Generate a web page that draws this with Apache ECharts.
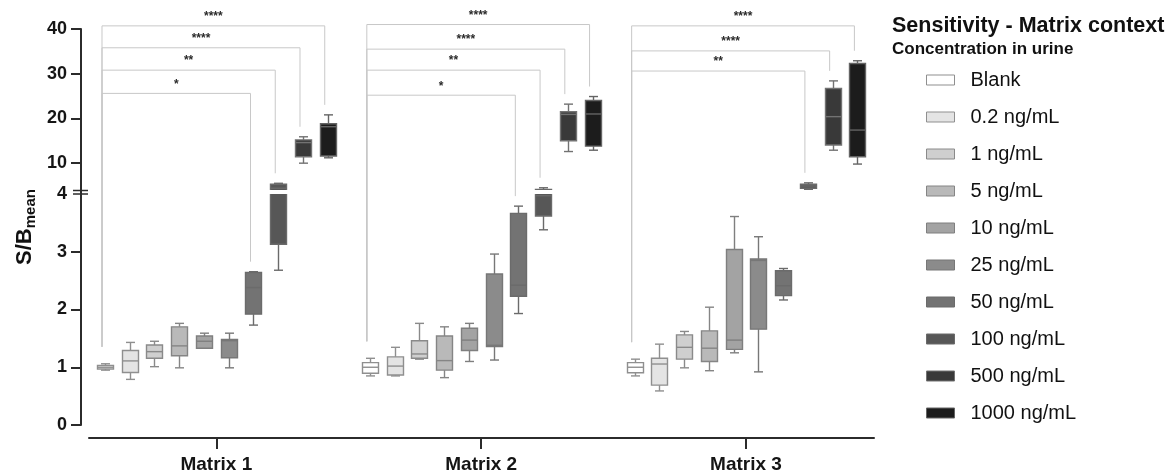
<!DOCTYPE html>
<html><head><meta charset="utf-8">
<script src="https://cdn.jsdelivr.net/npm/echarts@6/dist/echarts.min.js"></script>
<style>html,body{margin:0;padding:0;background:#fff}#c{width:1171px;height:472px}</style>
</head><body><div id="c"></div>
<script>
// ---------------- data ----------------
const matrices = ['Matrix 1', 'Matrix 2', 'Matrix 3'];
const concentrations = ['Blank', '0.2 ng/mL', '1 ng/mL', '5 ng/mL', '10 ng/mL', '25 ng/mL', '50 ng/mL', '100 ng/mL', '500 ng/mL', '1000 ng/mL'];
// each row: [min, Q1, median, Q3, max] of S/B_mean
const matrix1 = [
  [0.95, 0.97, 1.00, 1.03, 1.06],
  [0.79, 0.91, 1.11, 1.29, 1.43],
  [1.01, 1.155, 1.27, 1.385, 1.45],
  [0.99, 1.20, 1.37, 1.70, 1.76],
  [1.33, 1.33, 1.45, 1.54, 1.59],
  [0.99, 1.165, 1.46, 1.48, 1.59],
  [1.73, 1.92, 2.38, 2.64, 2.655],
  [2.68, 3.13, 4.40, 5.27, 5.50],
  [10.0, 11.45, 14.6, 15.2, 15.9],
  [11.2, 11.6, 18.15, 18.8, 20.8]
];
const matrix2 = [
  [0.85, 0.895, 1.00, 1.08, 1.155],
  [0.85, 0.865, 1.02, 1.18, 1.345],
  [1.14, 1.155, 1.23, 1.46, 1.76],
  [0.82, 0.95, 1.115, 1.54, 1.70],
  [1.10, 1.29, 1.47, 1.675, 1.76],
  [1.125, 1.36, 1.38, 2.615, 2.96],
  [1.93, 2.23, 2.42, 3.665, 3.79],
  [3.38, 3.62, 3.97, 4.10, 4.50],
  [12.6, 15.0, 20.9, 21.5, 23.2],
  [12.9, 13.8, 21.0, 24.0, 24.9]
];
const matrix3 = [
  [0.85, 0.905, 1.00, 1.08, 1.14],
  [0.59, 0.69, 1.056, 1.155, 1.40],
  [0.99, 1.14, 1.345, 1.56, 1.62],
  [0.94, 1.10, 1.33, 1.63, 2.04],
  [1.25, 1.31, 1.47, 3.04, 3.61],
  [0.92, 1.66, 2.85, 2.875, 3.26],
  [2.165, 2.24, 2.41, 2.67, 2.71],
  [4.15, 4.40, 4.90, 5.30, 5.60],
  [12.9, 14.06, 20.4, 26.7, 28.4],
  [9.8, 11.45, 17.4, 32.3, 32.9]
];
// y ticks (broken axis: lower 0-4, upper 4-40)
const lowerTicks = [0, 1, 2, 3, 4];
const upperTicks = [10, 20, 30, 40];
// significance vs Blank, per matrix: target concentration index, label, bracket level
const sigTargets = [[6, 7, 8, 9], [6, 7, 8, 9], [7, 8, 9]];
const sigLabels = [['*', '**', '****', '****'], ['*', '**', '****', '****'], ['**', '****', '****']];
const sigLevels = [[25.6, 30.8, 35.8, 40.7], [25.2, 30.8, 35.5, 41.0], [30.6, 35.1, 40.7]];

// ---------------- layout / style ----------------
const FONT = '"Liberation Sans", Arial, Helvetica, sans-serif';
const GROUP_SPAN = 10.7;          // x units between matrices (1 unit = one box slot)
const X_MIN = -0.646, X_MAX = 31.071;
const BOX_W = 16, CAP_W = 9;
const fills = ['#ffffff', '#e4e4e4', '#cfcfcf', '#b9b9b9', '#a3a3a3', '#8b8b8b', '#737373', '#575757', '#393939', '#1c1c1c'];
const strokes = ['#8f8f8f', '#8f8f8f', '#8a8a8a', '#858585', '#7f7f7f', '#777777', '#6b6b6b', '#6a6a6a', '#727272', '#646464'];
const AXIS_COLOR = '#2b2b2b';
const Y_OFFSET = 8;

const allData = [matrix1, matrix2, matrix3];
const nC = concentrations.length;
const groupCenters = matrices.map((m, g) => g * GROUP_SPAN + (nC - 1) / 2);
const boxX = (g, c) => g * GROUP_SPAN + c;

function makeRender(c) {
  return function (params, api) {
    const x = api.value(0);
    const pMin = api.coord([x, api.value(1)]);
    const pQ1 = api.coord([x, api.value(2)]);
    const pMed = api.coord([x, api.value(3)]);
    const pQ3 = api.coord([x, api.value(4)]);
    const pMax = api.coord([x, api.value(5)]);
    const cx = Math.round(pMin[0]) + 0.5;
    const hw = BOX_W / 2, cw = CAP_W / 2;
    const ls = { stroke: strokes[c], lineWidth: 1.4 };
    return {
      type: 'group',
      children: [
        { type: 'line', shape: { x1: cx, y1: pMax[1], x2: cx, y2: pQ3[1] }, style: ls },
        { type: 'line', shape: { x1: cx - cw, y1: pMax[1], x2: cx + cw, y2: pMax[1] }, style: ls },
        { type: 'line', shape: { x1: cx, y1: pQ1[1], x2: cx, y2: pMin[1] }, style: ls },
        { type: 'line', shape: { x1: cx - cw, y1: pMin[1], x2: cx + cw, y2: pMin[1] }, style: ls },
        { type: 'rect', shape: { x: cx - hw, y: pQ3[1], width: BOX_W, height: pQ1[1] - pQ3[1] },
          style: { fill: fills[c], stroke: strokes[c], lineWidth: 1.4 } },
        { type: 'line', shape: { x1: cx - hw, y1: pMed[1], x2: cx + hw, y2: pMed[1] }, style: ls }
      ]
    };
  };
}

const series = [];
[0, 1].forEach(gi => {
  concentrations.forEach((name, c) => {
    series.push({
      type: 'custom', name, xAxisIndex: gi, yAxisIndex: gi, clip: true,
      itemStyle: { color: fills[c], borderColor: strokes[c] },
      encode: { x: 0, y: [1, 2, 3, 4, 5] },
      data: allData.map((m, g) => [boxX(g, c)].concat(m[c])),
      renderItem: makeRender(c),
      silent: true
    });
  });
});

const axisLineStyle = { color: AXIS_COLOR, width: 2 };
const yLabel = { fontSize: 18, fontWeight: 'bold', color: '#151515', fontFamily: FONT, margin: 14 };

const option = {
  animation: false,
  backgroundColor: '#fff',
  textStyle: { fontFamily: FONT },
  title: [
    { text: 'Sensitivity - Matrix context', left: 887, top: 10,
      textStyle: { fontSize: 21.5, fontWeight: 'bold', color: '#111', fontFamily: FONT } },
    { text: 'Concentration in urine', left: 887, top: 36,
      textStyle: { fontSize: 17, fontWeight: 'bold', color: '#111', fontFamily: FONT } }
  ],
  legend: {
    orient: 'vertical', left: 921, top: 65, itemWidth: 28, itemHeight: 10, itemGap: 17,
    icon: 'rect', selectedMode: false,
    data: concentrations.map((n, c) => ({ name: n, itemStyle: { color: fills[c], borderColor: strokes[c], borderWidth: 1 } })),
    textStyle: { fontSize: 20, color: '#111', fontFamily: FONT, lineHeight: 20, padding: [0, 0, 0, 11] }
  },
  grid: [
    { left: 89, right: 297, top: 194, height: 231, containLabel: false, outerBoundsMode: 'none' },
    { left: 89, right: 297, top: 29, height: 161, containLabel: false, outerBoundsMode: 'none' }
  ],
  xAxis: [
    { gridIndex: 0, type: 'value', min: X_MIN, max: X_MAX, offset: 13, position: 'bottom',
      axisLine: { show: true, onZero: false, lineStyle: axisLineStyle },
      axisTick: { show: true, customValues: groupCenters, length: 11, lineStyle: axisLineStyle },
      axisLabel: { customValues: groupCenters, fontSize: 19, fontWeight: 'bold', color: '#151515', fontFamily: FONT, margin: 17,
        formatter: v => matrices[Math.round((v - (nC - 1) / 2) / GROUP_SPAN)] },
      splitLine: { show: false } },
    { gridIndex: 1, type: 'value', min: X_MIN, max: X_MAX, show: false, axisLine: { onZero: false }, splitLine: { show: false } }
  ],
  yAxis: [
    { gridIndex: 0, type: 'value', min: lowerTicks[0], max: lowerTicks[lowerTicks.length - 1], interval: 1, offset: Y_OFFSET,
      position: 'left',
      axisLine: { show: true, onZero: false, lineStyle: axisLineStyle },
      axisTick: { show: true, length: 10, customValues: lowerTicks.slice(0, -1), lineStyle: axisLineStyle },
      axisLabel: Object.assign({ customValues: lowerTicks }, yLabel),
      splitLine: { show: false } },
    { gridIndex: 1, type: 'value', min: 4, max: 40, offset: Y_OFFSET, position: 'left',
      axisLine: { show: true, onZero: false, lineStyle: axisLineStyle },
      axisTick: { show: true, length: 10, customValues: upperTicks, lineStyle: axisLineStyle },
      axisLabel: Object.assign({ customValues: upperTicks }, yLabel),
      splitLine: { show: false } }
  ],
  series
};

const chart = echarts.init(document.getElementById('c'), null, { renderer: 'canvas' });
chart.setOption(option);

// ---------------- annotations via the chart's own scales ----------------
const LOWER = { xAxisIndex: 0, yAxisIndex: 0 };
const UPPER = { xAxisIndex: 1, yAxisIndex: 1 };
function px(x, v) {
  return chart.convertToPixel(v <= 4 ? LOWER : UPPER, [x, v]);
}
const graphics = [];
const BR_COLOR = '#c8c8c8';
const LEFT_GAP = 17, RIGHT_GAP = 10, BR_DX = -3;
allData.forEach((m, g) => {
  const pBlank = px(boxX(g, 0), m[0][4]);
  sigTargets[g].forEach((t, k) => {
    const pT = px(boxX(g, t), m[t][4]);
    const yL = chart.convertToPixel(UPPER, [boxX(g, t), sigLevels[g][k]])[1];
    const xl = pBlank[0] + BR_DX, xr = pT[0] + BR_DX;
    graphics.push({
      type: 'polyline', silent: true, z: 1,
      shape: { points: [[xl, pBlank[1] - LEFT_GAP], [xl, yL], [xr, yL], [xr, pT[1] - RIGHT_GAP]] },
      style: { stroke: BR_COLOR, lineWidth: 1, fill: null }
    });
    graphics.push({
      type: 'text', silent: true, z: 2, x: (xl + xr) / 2, y: yL - 3,
      style: { text: sigLabels[g][k], align: 'center', verticalAlign: 'bottom', fontSize: 12, fontWeight: 'bold',
        fontFamily: FONT, fill: '#2a2a2a' }
    });
  });
});
// axis break marks
const yLowTop = chart.convertToPixel(LOWER, [X_MIN, 4]);
const yUpBot = chart.convertToPixel(UPPER, [X_MIN, 4]);
const axX = yLowTop[0] - Y_OFFSET;
graphics.push({ type: 'line', silent: true, shape: { x1: axX, y1: yUpBot[1], x2: axX, y2: yLowTop[1] }, style: { stroke: AXIS_COLOR, lineWidth: 2 } });
[yUpBot[1] + 0.5, yLowTop[1]].forEach(y => graphics.push({
  type: 'line', silent: true, shape: { x1: axX - 8, y1: y, x2: axX + 7, y2: y }, style: { stroke: AXIS_COLOR, lineWidth: 1.5 }
}));
// y axis title
const yTop = chart.convertToPixel(UPPER, [X_MIN, 40])[1];
const yBot = chart.convertToPixel(LOWER, [X_MIN, 0])[1];
graphics.push({
  type: 'text', silent: true, x: axX - 56, y: (yTop + yBot) / 2, rotation: Math.PI / 2,
  style: {
    text: '{a|S/B}{b|mean}', align: 'center', verticalAlign: 'middle', fill: '#111',
    rich: {
      a: { fontSize: 22, fontWeight: 'bold', fontFamily: FONT, lineHeight: 26, fill: '#111' },
      b: { fontSize: 15, fontWeight: 'bold', fontFamily: FONT, lineHeight: 15, verticalAlign: 'bottom', fill: '#111' }
    }
  }
});
chart.setOption({ graphic: graphics });
</script>
</body></html>
